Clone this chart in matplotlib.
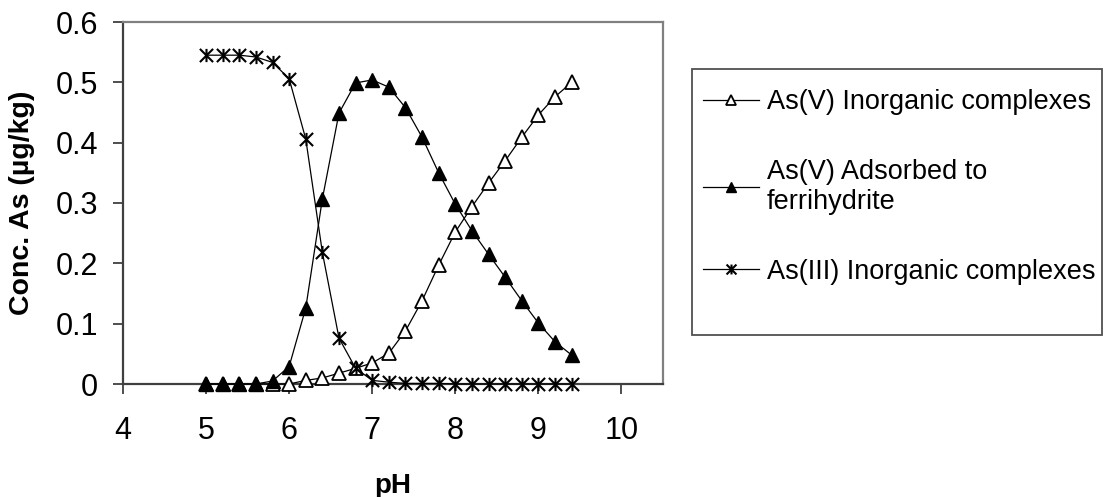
import matplotlib
matplotlib.use('Agg')
import matplotlib.pyplot as plt
from matplotlib.path import Path
from matplotlib.patches import Rectangle

plt.rcParams['font.family'] = ['Liberation Sans', 'DejaVu Sans']

#####################################################################
# data:
ph = [5.0, 5.2, 5.4, 5.6, 5.8, 6.0, 6.2, 6.4, 6.6, 6.8, 7.0, 7.2,
      7.4, 7.6, 7.8, 8.0, 8.2, 8.4, 8.6, 8.8, 9.0, 9.2, 9.4]

as5_inorganic = [0, 0, 0, 0, 0, 0, 0.006, 0.010, 0.018, 0.026, 0.035, 0.051,
                 0.088, 0.138, 0.197, 0.252, 0.294, 0.333, 0.370, 0.409, 0.446, 0.476, 0.500]

as5_adsorbed = [0, 0, 0, 0, 0.005, 0.029, 0.126, 0.307, 0.449, 0.499, 0.504, 0.492,
                0.458, 0.409, 0.350, 0.298, 0.254, 0.215, 0.177, 0.138, 0.101, 0.070, 0.048]

as3_inorganic = [0.545, 0.545, 0.545, 0.542, 0.533, 0.506, 0.406, 0.218, 0.076, 0.026, 0.006, 0.003,
                 0.001, 0.001, 0.001, 0, 0, 0, 0, 0, 0, 0, 0]

labels = ['As(V) Inorganic complexes',
          'As(V) Adsorbed to\nferrihydrite',
          'As(III) Inorganic complexes']

x_ticks = [4, 5, 6, 7, 8, 9, 10]
y_ticks = [0, 0.1, 0.2, 0.3, 0.4, 0.5, 0.6]
y_tick_labels = ['0', '0.1', '0.2', '0.3', '0.4', '0.5', '0.6']

#####################################################################
# asterisk marker (x plus vertical bar):
star = Path([(0, -1), (0, 1), (-1, -1), (1, 1), (-1, 1), (1, -1)],
            [Path.MOVETO, Path.LINETO, Path.MOVETO, Path.LINETO, Path.MOVETO, Path.LINETO])

#####################################################################
# plot:
fig = plt.figure(figsize=(11.04, 4.97), dpi=100)
ax = fig.add_axes([123/1104, 1 - 384/497, 540/1104, 362/497])

ax.plot(ph, as5_inorganic, color='black', lw=0.9, marker='^', ms=9.5,
        mfc='white', mec='black', mew=1.3, clip_on=False, label=labels[0], zorder=3)
ax.plot(ph, as5_adsorbed, color='black', lw=0.9, marker='^', ms=9.5,
        mfc='black', mec='black', mew=1.0, clip_on=False, label=labels[1], zorder=4)
ax.plot(ph, as3_inorganic, color='black', lw=0.9, marker=star, ms=9.5,
        mfc='none', mec='black', mew=1.5, clip_on=False, label=labels[2], zorder=5)

#####################################################################
# format:
ax.set_xlim(4, 10.5)
ax.set_ylim(0, 0.6)
ax.set_xticks(x_ticks)
ax.set_yticks(y_ticks)
ax.set_yticklabels(y_tick_labels)

for side in ['left', 'bottom']:
    ax.spines[side].set_color('#404040')
    ax.spines[side].set_linewidth(1.6)
for side in ['top', 'right']:
    ax.spines[side].set_color('#808080')
    ax.spines[side].set_linewidth(1.6)

ax.tick_params(axis='both', direction='out', length=7, width=1.3, color='#404040',
               labelsize=22)
ax.tick_params(axis='x', pad=16)
ax.tick_params(axis='y', pad=11)

ax.set_xlabel('pH', fontsize=20, fontweight='bold')
ax.set_ylabel('Conc. As (µg/kg)', fontsize=20.5, fontweight='bold')
ax.xaxis.set_label_coords(0.5, -0.245)
ax.yaxis.set_label_coords(-0.163, 0.5)

# legend box drawn separately so it keeps the reference size
fig.patches.append(Rectangle((692/1104, 1 - 335/497), 410/1104, 266/497,
                             transform=fig.transFigure, fill=False,
                             edgecolor='#505050', linewidth=1.3))
ax.legend(loc='upper left', bbox_to_anchor=(703/1104, 1 - 89/497),
          bbox_transform=fig.transFigure, frameon=False, fontsize=19.5,
          borderpad=0, borderaxespad=0, handlelength=2.05, handletextpad=0.3,
          labelspacing=1.62, markerscale=0.75)

fig.savefig('out.png', dpi=100)
